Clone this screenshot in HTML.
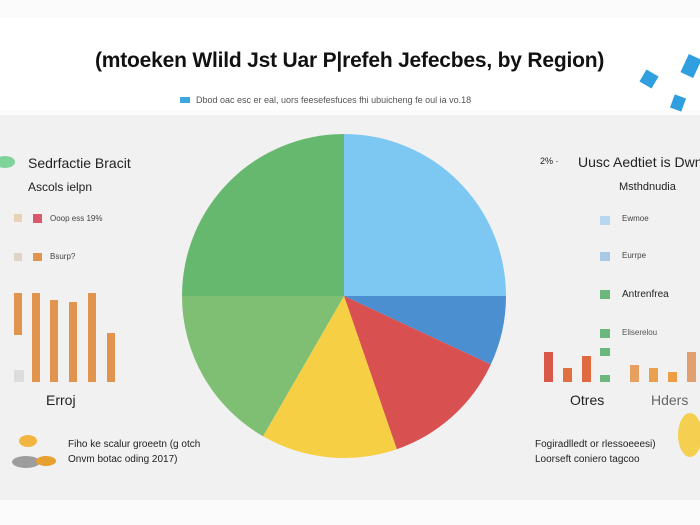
<!DOCTYPE html>
<html><head><meta charset="utf-8"><style>
body{margin:0;width:700px;height:525px;background:#fbfbfb;font-family:"Liberation Sans",sans-serif;position:relative;overflow:hidden}
.t{position:absolute;white-space:nowrap;color:#222}
</style></head><body>
<div style="position:absolute;left:0;top:18px;width:700px;height:92px;background:#fff"></div>
<div style="position:absolute;left:0;top:115px;width:700px;height:385px;background:#f1f1f1"></div>
<div class="t" style="left:95px;top:49px;font-size:21px;font-weight:bold;color:#111;letter-spacing:-0.2px">(mtoeken Wlild Jst Uar P|refeh Jefecbes, by Region)</div>
<div class="t" style="left:180px;top:95px;font-size:9px;color:#555"><span style="display:inline-block;width:10px;height:6px;background:#3ea7e0;margin-right:6px"></span>Dbod oac esc er eal, uors feesefesfuces fhi ubuicheng fe oul ia vo.18</div>
<div style="position:absolute;left:642px;top:72px;width:14px;height:14px;background:#2f9fe0;transform:rotate(30deg)"></div>
<div style="position:absolute;left:684px;top:56px;width:14px;height:20px;background:#2f9fe0;transform:rotate(25deg)"></div>
<div style="position:absolute;left:672px;top:96px;width:12px;height:14px;background:#2f9fe0;transform:rotate(20deg)"></div>
<svg style="position:absolute;left:0;top:0" width="700" height="525">
<path d="M344,296 L344,134 A162,162 0 0 1 506,296Z" fill="#7cc8f2"/>
<path d="M344,296 L506,296 A162,162 0 0 1 490.8,364.5Z" fill="#4b8fd0"/>
<path d="M344,296 L490.8,364.5 A162,162 0 0 1 396.8,449.2Z" fill="#d95050"/>
<path d="M344,296 L396.8,449.2 A162,162 0 0 1 263,436.3Z" fill="#f7cf45"/>
<path d="M344,296 L263,436.3 A162,162 0 0 1 182,296Z" fill="#7fbf74"/>
<path d="M344,296 L182,296 A162,162 0 0 1 344,134Z" fill="#66b86e"/>
<rect x="14" y="370" width="10" height="12" fill="#ddd"/>
<rect x="14" y="293" width="8" height="42" fill="#e0944e"/>
<rect x="32" y="293" width="8" height="89" fill="#e0944e"/>
<rect x="50" y="300" width="8" height="82" fill="#e0944e"/>
<rect x="69" y="302" width="8" height="80" fill="#e0944e"/>
<rect x="88" y="293" width="8" height="89" fill="#e0944e"/>
<rect x="107" y="333" width="8" height="49" fill="#e0944e"/>
<rect x="14" y="214" width="8" height="8" fill="#e8d2b8"/><rect x="33" y="214" width="9" height="9" fill="#d9586a"/>
<rect x="14" y="253" width="8" height="8" fill="#e0d4c6"/><rect x="33" y="253" width="9" height="8" fill="#e0944e"/>
<rect x="600" y="216" width="10" height="9" fill="#b8d6ee"/>
<rect x="600" y="252" width="10" height="9" fill="#a8c8e6"/>
<rect x="600" y="290" width="10" height="9" fill="#6cb87c"/>
<rect x="600" y="329" width="10" height="9" fill="#6cb87c"/>
<rect x="600" y="348" width="10" height="8" fill="#6cb87c"/>
<rect x="600" y="375" width="10" height="7" fill="#6cb87c"/>
<rect x="544" y="352" width="9" height="30" fill="#d9584a"/>
<rect x="563" y="368" width="9" height="14" fill="#e07040"/>
<rect x="582" y="356" width="9" height="26" fill="#e06a40"/>
<rect x="630" y="365" width="9" height="17" fill="#e8a060"/>
<rect x="649" y="368" width="9" height="14" fill="#eba050"/>
<rect x="668" y="372" width="9" height="10" fill="#ed9e45"/>
<rect x="687" y="352" width="9" height="30" fill="#e0a070"/>
<ellipse cx="5" cy="162" rx="10" ry="6" fill="#7ed39a"/>
<ellipse cx="28" cy="441" rx="9" ry="6" fill="#f2b640"/>
<ellipse cx="26" cy="462" rx="14" ry="6" fill="#666" opacity=".6"/>
<ellipse cx="46" cy="461" rx="10" ry="5" fill="#e8a030"/>
<ellipse cx="690" cy="435" rx="12" ry="22" fill="#f5cf50"/>
</svg>
<div class="t" style="left:28px;top:155px;font-size:14px">Sedrfactie Bracit</div>
<div class="t" style="left:28px;top:180px;font-size:12px">Ascols ielpn</div>
<div class="t" style="left:50px;top:214px;font-size:8px;color:#444">Ooop ess 19%</div>
<div class="t" style="left:50px;top:252px;font-size:8px;color:#444">Bsurp?</div>
<div class="t" style="left:46px;top:392px;font-size:14px">Erroj</div>
<div class="t" style="left:68px;top:439px;font-size:10px">Fiho ke scalur groeetn (g otch</div>
<div class="t" style="left:68px;top:454px;font-size:10px">Onvm botac oding 2017)</div>
<div class="t" style="left:540px;top:156px;font-size:9px">2% ·</div>
<div class="t" style="left:578px;top:154px;font-size:14px">Uusc Aedtiet is Dwnrie</div>
<div class="t" style="left:619px;top:181px;font-size:11px">Msthdnudia</div>
<div class="t" style="left:622px;top:214px;font-size:8px;color:#444">Ewmoe</div>
<div class="t" style="left:622px;top:251px;font-size:8px;color:#444">Eurrpe</div>
<div class="t" style="left:622px;top:289px;font-size:10px">Antrenfrea</div>
<div class="t" style="left:622px;top:328px;font-size:8px;color:#555">Eliserelou</div>
<div class="t" style="left:570px;top:392px;font-size:14px">Otres</div>
<div class="t" style="left:651px;top:392px;font-size:14px;color:#666">Hders</div>
<div class="t" style="left:535px;top:439px;font-size:10px">Fogiradlledt or rlessoeeesi)</div>
<div class="t" style="left:535px;top:454px;font-size:10px">Loorseft coniero tagcoo</div>
</body></html>
